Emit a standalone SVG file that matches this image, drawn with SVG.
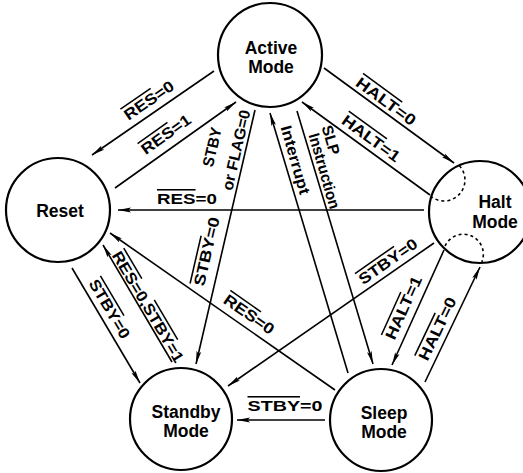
<svg xmlns="http://www.w3.org/2000/svg" width="523" height="473" viewBox="0 0 523 473">
<style>
.node{fill:#fff;stroke:#000;stroke-width:2.2}
.nt{font-family:"Liberation Sans",Arial,sans-serif;font-weight:bold;font-size:17.5px;text-anchor:middle;fill:#000}
.edge{stroke:#000;stroke-width:1.6;fill:none;marker-end:url(#ah)}
.dash{stroke:#000;stroke-width:1.6;fill:none;stroke-dasharray:3 3}
.lbl{font-family:"Liberation Sans",Arial,sans-serif;font-weight:bold;font-size:15.5px;text-anchor:middle;fill:#000}
.ov{text-decoration:overline}
</style>
<defs>
<marker id="ah" markerUnits="userSpaceOnUse" markerWidth="13" markerHeight="6" viewBox="0 0 13 6" refX="13" refY="3" orient="auto">
<path d="M0,0.6 L13,3 L0,5.4 L2.5,3 z" fill="#000"/>
</marker>
</defs>
<rect width="523" height="473" fill="#fff"/>

<g id="connectors">
<g id="active-reset"><line class="edge" x1="214" y1="71" x2="92" y2="155"/>
<text class="lbl" transform="translate(148,99) rotate(-34.5)" y="7" textLength="57" lengthAdjust="spacingAndGlyphs"><tspan class="ov">RES</tspan>=0</text></g>
<g id="reset-active"><line class="edge" x1="115" y1="188" x2="236" y2="102"/>
<text class="lbl" transform="translate(165,133) rotate(-35.4)" y="7" textLength="57" lengthAdjust="spacingAndGlyphs"><tspan class="ov">RES</tspan>=1</text></g>
<g id="active-halt"><line class="edge" x1="324" y1="68" x2="454" y2="163"/>
<text class="lbl" transform="translate(387,100) rotate(36.2)" y="7" textLength="70" lengthAdjust="spacingAndGlyphs"><tspan class="ov">HALT</tspan>=0</text></g>
<g id="halt-active"><line class="edge" x1="430" y1="195" x2="302" y2="102"/>
<text class="lbl" transform="translate(372,137) rotate(36)" y="7" textLength="68" lengthAdjust="spacingAndGlyphs"><tspan class="ov">HALT</tspan>=1</text></g>
<g id="halt-reset"><line class="edge" x1="424" y1="210" x2="118" y2="210"/>
<text class="lbl" x="187" y="204" textLength="60" lengthAdjust="spacingAndGlyphs"><tspan class="ov">RES</tspan>=0</text></g>
<g id="active-standby"><line class="edge" x1="255" y1="110" x2="196" y2="364"/>
<text class="lbl" transform="translate(212,147) rotate(-77)" y="5.5" textLength="40" lengthAdjust="spacingAndGlyphs">STBY</text>
<text class="lbl" transform="translate(236,150) rotate(-77)" y="5.5" textLength="82" lengthAdjust="spacingAndGlyphs">or FLAG=0</text>
<text class="lbl" transform="translate(205,251) rotate(-77)" y="7" textLength="70" lengthAdjust="spacingAndGlyphs"><tspan class="ov">STBY</tspan>=0</text></g>
<g id="sleep-active"><line class="edge" x1="348" y1="373" x2="270" y2="113"/>
<text class="lbl" transform="translate(295,160) rotate(74)" y="5" textLength="71" lengthAdjust="spacingAndGlyphs">Interrupt</text></g>
<g id="active-sleep"><line class="edge" x1="297" y1="111" x2="373" y2="364"/>
<text class="lbl" transform="translate(331,140) rotate(74)" y="5.5">SLP</text>
<text class="lbl" transform="translate(324,171) rotate(74)" y="5" textLength="78" lengthAdjust="spacingAndGlyphs">Instruction</text></g>
<g id="halt-standby"><line class="edge" x1="434" y1="243" x2="228" y2="386"/>
<text class="lbl" transform="translate(387,260) rotate(-35)" y="7" textLength="68" lengthAdjust="spacingAndGlyphs"><tspan class="ov">STBY</tspan>=0</text></g>
<g id="halt-sleep"><line class="edge" x1="444" y1="250" x2="392" y2="365"/>
<text class="lbl" transform="translate(402,307) rotate(-65.7)" y="7" textLength="68" lengthAdjust="spacingAndGlyphs"><tspan class="ov">HALT</tspan>=1</text></g>
<g id="sleep-halt"><line class="edge" x1="425" y1="382" x2="480" y2="267"/>
<text class="lbl" transform="translate(436,328) rotate(-64.4)" y="7" textLength="68" lengthAdjust="spacingAndGlyphs"><tspan class="ov">HALT</tspan>=0</text></g>
<g id="sleep-standby"><line class="edge" x1="325" y1="420" x2="237" y2="420"/>
<text class="lbl" x="285" y="411" textLength="75" lengthAdjust="spacingAndGlyphs"><tspan class="ov">STBY</tspan>=0</text></g>
<g id="sleep-reset"><line class="edge" x1="335" y1="390" x2="110" y2="233"/>
<text class="lbl" transform="translate(250,313) rotate(34.9)" y="7" textLength="58" lengthAdjust="spacingAndGlyphs"><tspan class="ov">RES</tspan>=0</text></g>
<g id="reset-standby"><line class="edge" x1="72" y1="268" x2="140" y2="383"/>
<text class="lbl" transform="translate(111,308) rotate(59.4)" y="7" textLength="66" lengthAdjust="spacingAndGlyphs"><tspan class="ov">STBY</tspan>=0</text></g>
<g id="standby-reset"><line class="edge" x1="172" y1="362" x2="103" y2="245"/>
<text class="lbl" transform="translate(149.5,306) rotate(59.5)" y="7" textLength="126" lengthAdjust="spacingAndGlyphs"><tspan class="ov">RES</tspan>=0,<tspan class="ov">STBY</tspan>=1</text></g>
</g>

<g id="active">
<circle class="node" cx="270" cy="55" r="52"/>
<text class="nt" x="271" y="54">Active</text>
<text class="nt" x="271" y="73">Mode</text>
</g>
<g id="reset">
<circle class="node" cx="58" cy="210" r="52"/>
<text class="nt" x="60" y="217">Reset</text>
</g>
<g id="halt">
<circle class="node" cx="480" cy="212" r="51"/>
<path class="dash" d="M459.4,165.7 A21 21 0 0 1 432,197.2"/>
<path class="dash" d="M445.1,246 A20 20 0 0 1 481.8,261.9"/>
<text class="nt" x="495" y="208">Halt</text>
<text class="nt" x="495" y="228">Mode</text>
</g>
<g id="standby">
<circle class="node" cx="181" cy="419" r="51"/>
<text class="nt" x="186" y="418">Standby</text>
<text class="nt" x="186" y="437">Mode</text>
</g>
<g id="sleep">
<circle class="node" cx="381" cy="420" r="51"/>
<text class="nt" x="384" y="419">Sleep</text>
<text class="nt" x="384" y="438">Mode</text>
</g>
</svg>
